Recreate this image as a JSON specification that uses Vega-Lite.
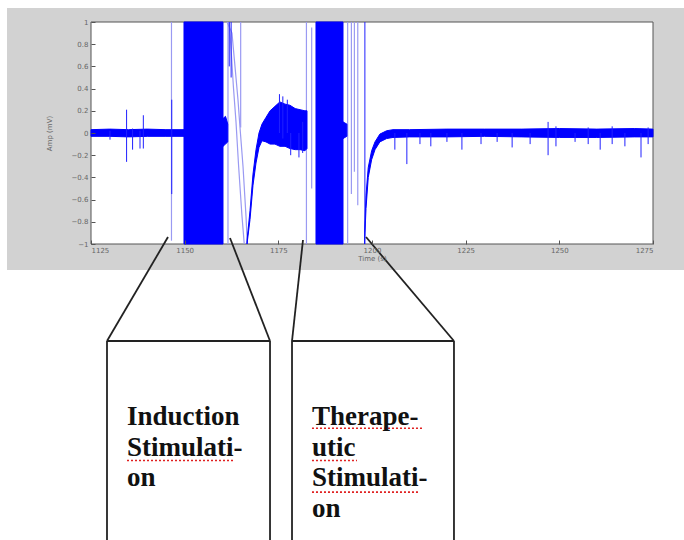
{
  "$schema": "https://vega.github.io/schema/vega-lite/v6.json",
  "width": 562,
  "height": 222,
  "autosize": {"type": "none"},
  "padding": {"left": 91, "top": 22, "right": 31, "bottom": 296},
  "background": "white",
  "config": {
    "view": {"stroke": null},
    "axis": {"grid": false, "domain": false, "labelFont": "DejaVu Sans", "labelFontSize": 7, "labelColor": "#666", "titleFont": "DejaVu Sans", "titleFontSize": 7, "titleFontWeight": "normal", "titleColor": "#666", "tickColor": "#555", "tickSize": -4}
  },
  "datasets": {
    "bg": [{"t": 1102.58, "t2": 1290, "v": 1.126, "v2": -1.234}],
    "frame": [{"t": 1125, "t2": 1275, "v": 1, "v2": -1}],
    "env": [
      {"seg": "a", "t": 1125.0, "v": -0.03, "v2": 0.03},
      {"seg": "a", "t": 1130.0, "v": -0.03, "v2": 0.035},
      {"seg": "a", "t": 1135.0, "v": -0.035, "v2": 0.03},
      {"seg": "a", "t": 1140.0, "v": -0.03, "v2": 0.035},
      {"seg": "a", "t": 1145.0, "v": -0.03, "v2": 0.03},
      {"seg": "a", "t": 1149.82, "v": -0.03, "v2": 0.03},
      {"seg": "b", "t": 1149.82, "v": -1, "v2": 1},
      {"seg": "b", "t": 1160.23, "v": -1, "v2": 1},
      {"seg": "c", "t": 1160.23, "v": -0.12, "v2": 0.13},
      {"seg": "c", "t": 1160.9, "v": -0.1, "v2": 0.15},
      {"seg": "c", "t": 1161.5, "v": -0.08, "v2": 0.08},
      {"seg": "d", "t": 1166.64, "v": -1.0, "v2": -0.97},
      {"seg": "d", "t": 1167.44, "v": -0.78, "v2": -0.7},
      {"seg": "d", "t": 1168.24, "v": -0.47, "v2": -0.37},
      {"seg": "d", "t": 1169.04, "v": -0.27, "v2": -0.15},
      {"seg": "d", "t": 1169.84, "v": -0.13, "v2": 0.0},
      {"seg": "d", "t": 1170.64, "v": -0.07, "v2": 0.08},
      {"seg": "d", "t": 1171.7, "v": -0.08, "v2": 0.14},
      {"seg": "d", "t": 1172.8, "v": -0.1, "v2": 0.2},
      {"seg": "d", "t": 1174.1, "v": -0.1, "v2": 0.24},
      {"seg": "d", "t": 1175.4, "v": -0.12, "v2": 0.28},
      {"seg": "d", "t": 1176.8, "v": -0.12, "v2": 0.26},
      {"seg": "d", "t": 1178.1, "v": -0.14, "v2": 0.25},
      {"seg": "d", "t": 1179.5, "v": -0.15, "v2": 0.22},
      {"seg": "d", "t": 1180.8, "v": -0.15, "v2": 0.21},
      {"seg": "d", "t": 1182.1, "v": -0.16, "v2": 0.2},
      {"seg": "d", "t": 1182.65, "v": -0.14, "v2": 0.2},
      {"seg": "e", "t": 1185.05, "v": -1, "v2": 1},
      {"seg": "e", "t": 1192.26, "v": -1, "v2": 1},
      {"seg": "f", "t": 1192.26, "v": -0.05, "v2": 0.1},
      {"seg": "f", "t": 1193.3, "v": -0.03, "v2": 0.08},
      {"seg": "g", "t": 1198.0, "v": -1.0, "v2": -0.9},
      {"seg": "g", "t": 1198.4, "v": -0.68, "v2": -0.56},
      {"seg": "g", "t": 1199.0, "v": -0.4, "v2": -0.31},
      {"seg": "g", "t": 1199.9, "v": -0.24, "v2": -0.16},
      {"seg": "g", "t": 1200.8, "v": -0.15, "v2": -0.08},
      {"seg": "g", "t": 1202.1, "v": -0.08, "v2": -0.01},
      {"seg": "g", "t": 1203.9, "v": -0.05, "v2": 0.02},
      {"seg": "g", "t": 1205.6, "v": -0.04, "v2": 0.03},
      {"seg": "g", "t": 1210.0, "v": -0.035, "v2": 0.03},
      {"seg": "g", "t": 1220.0, "v": -0.035, "v2": 0.035},
      {"seg": "g", "t": 1230.0, "v": -0.03, "v2": 0.035},
      {"seg": "g", "t": 1240.0, "v": -0.035, "v2": 0.035},
      {"seg": "g", "t": 1250.0, "v": -0.04, "v2": 0.04},
      {"seg": "g", "t": 1260.0, "v": -0.04, "v2": 0.035},
      {"seg": "g", "t": 1270.0, "v": -0.035, "v2": 0.04},
      {"seg": "g", "t": 1275.0, "v": -0.035, "v2": 0.035}
    ],
    "lightRules": [
      {"t": 1146.48, "v": -0.97, "v2": 1},
      {"t": 1161.56, "v": -1, "v2": 1},
      {"t": 1164.95, "v": 0.05, "v2": 1},
      {"t": 1182.5, "v": -1, "v2": 1},
      {"t": 1183.9, "v": -0.5, "v2": 0.95},
      {"t": 1193.5, "v": -1, "v2": 1},
      {"t": 1194.5, "v": -0.55, "v2": 1},
      {"t": 1195.3, "v": -0.35, "v2": 1},
      {"t": 1196.2, "v": -0.65, "v2": 1}
    ],
    "darkRules": [
      {"t": 1130.07, "v": -0.06, "v2": 0.02},
      {"t": 1134.5, "v": -0.26, "v2": 0.21},
      {"t": 1136.1, "v": -0.15, "v2": 0.04},
      {"t": 1138.08, "v": -0.14, "v2": 0.02},
      {"t": 1138.97, "v": -0.14, "v2": 0.16},
      {"t": 1146.55, "v": -0.55, "v2": 0.3},
      {"t": 1161.9, "v": 0.6, "v2": 1},
      {"t": 1162.4, "v": 0.5, "v2": 1},
      {"t": 1175.3, "v": 0.0, "v2": 0.35},
      {"t": 1176.2, "v": -0.05, "v2": 0.33},
      {"t": 1177.4, "v": 0.0, "v2": 0.3},
      {"t": 1178.3, "v": -0.2, "v2": 0.0},
      {"t": 1180.5, "v": -0.22, "v2": 0.0},
      {"t": 1181.5, "v": -0.18, "v2": 0.1},
      {"t": 1198.1, "v": -1, "v2": 1},
      {"t": 1206.1, "v": -0.15, "v2": 0.0},
      {"t": 1209.3, "v": -0.28, "v2": 0.0},
      {"t": 1212.8, "v": -0.1, "v2": 0.0},
      {"t": 1215.7, "v": -0.12, "v2": 0.0},
      {"t": 1220.0, "v": -0.08, "v2": 0.0},
      {"t": 1224.0, "v": -0.15, "v2": 0.0},
      {"t": 1229.1, "v": -0.1, "v2": 0.0},
      {"t": 1233.4, "v": -0.08, "v2": 0.0},
      {"t": 1237.4, "v": -0.13, "v2": 0.0},
      {"t": 1242.2, "v": -0.1, "v2": 0.0},
      {"t": 1247.0, "v": -0.2, "v2": 0.1},
      {"t": 1249.1, "v": -0.12, "v2": 0.06},
      {"t": 1254.2, "v": -0.08, "v2": 0.0},
      {"t": 1257.7, "v": -0.1, "v2": 0.05},
      {"t": 1260.9, "v": -0.15, "v2": 0.0},
      {"t": 1264.1, "v": -0.1, "v2": 0.06},
      {"t": 1267.5, "v": -0.12, "v2": 0.0},
      {"t": 1271.8, "v": -0.22, "v2": 0.0},
      {"t": 1273.7, "v": -0.1, "v2": 0.05}
    ],
    "lightCurves": [
      {"seg": "1", "t": 1161.3, "v": 1.0},
      {"seg": "1", "t": 1162.63, "v": 0.9},
      {"seg": "1", "t": 1163.43, "v": 0.6},
      {"seg": "1", "t": 1164.23, "v": 0.3},
      {"seg": "1", "t": 1164.77, "v": 0.05},
      {"seg": "1", "t": 1165.57, "v": -0.3},
      {"seg": "1", "t": 1166.37, "v": -0.75},
      {"seg": "1", "t": 1166.72, "v": -1.0},
      {"seg": "2", "t": 1161.9, "v": 1.0},
      {"seg": "2", "t": 1162.4, "v": 0.75},
      {"seg": "2", "t": 1163.0, "v": 0.42},
      {"seg": "2", "t": 1163.7, "v": 0.1},
      {"seg": "2", "t": 1164.4, "v": -0.3},
      {"seg": "2", "t": 1165.3, "v": -0.75},
      {"seg": "2", "t": 1165.9, "v": -1.0}
    ],
    "box": [
      {"t": 1129.27, "v": -1.874, "t2": 1172.78, "v2": -1.874},
      {"t": 1129.27, "v": -1.874, "t2": 1129.27, "v2": -3.85},
      {"t": 1172.78, "v": -1.874, "t2": 1172.78, "v2": -3.85},
      {"t": 1178.65, "v": -1.874, "t2": 1221.88, "v2": -1.874},
      {"t": 1178.65, "v": -1.874, "t2": 1178.65, "v2": -3.85},
      {"t": 1221.88, "v": -1.874, "t2": 1221.88, "v2": -3.85},
      {"t": 1129.27, "v": -1.874, "t2": 1145.55, "v2": -0.937},
      {"t": 1172.78, "v": -1.874, "t2": 1162.1, "v2": -0.946},
      {"t": 1178.65, "v": -1.874, "t2": 1181.58, "v2": -0.964},
      {"t": 1221.88, "v": -1.874, "t2": 1198.4, "v2": -0.937}
    ],
    "wavy": [
      {"t": 1134.61, "t2": 1163.43, "v": -2.95},
      {"t": 1183.98, "t2": 1213.6, "v": -2.66},
      {"t": 1183.98, "t2": 1195.99, "v": -2.95},
      {"t": 1183.98, "t2": 1212.27, "v": -3.235}
    ],
    "labels": [
      {"t": 1134.61, "v": -2.631, "label": "Induction\nStimulati-\non"},
      {"t": 1183.98, "v": -2.631, "label": "Therape-\nutic\nStimulati-\non"}
    ]
  },
  "encoding": {
    "x": {"field": "t", "type": "quantitative", "scale": {"domain": [1125, 1275], "nice": false, "zero": false},
      "axis": {"zindex": 2, "values": [1125, 1150, 1175, 1200, 1225, 1250, 1275], "format": "d", "title": "Time (s)", "labelPadding": 6, "titlePadding": 1}},
    "y": {"field": "v", "type": "quantitative", "scale": {"domain": [-1, 1], "nice": false, "zero": false},
      "axis": {"zindex": 2, "values": [-1, -0.8, -0.6, -0.4, -0.2, 0, 0.2, 0.4, 0.6, 0.8, 1], "format": "~g", "title": "Amp (mV)", "labelPadding": 7, "titlePadding": 19}}
  },
  "layer": [
    {"data": {"name": "bg"}, "mark": {"type": "rect", "fill": "#d2d2d2"}, "encoding": {"x2": {"field": "t2"}, "y2": {"field": "v2"}}},
    {"data": {"name": "frame"}, "mark": {"type": "rect", "fill": "white", "stroke": "#555", "strokeWidth": 1}, "encoding": {"x2": {"field": "t2"}, "y2": {"field": "v2"}}},
    {"data": {"name": "lightCurves"}, "mark": {"type": "line", "color": "#9a9af2", "strokeWidth": 1.2}, "encoding": {"detail": {"field": "seg"}}},
    {"data": {"name": "lightRules"}, "mark": {"type": "rule", "color": "#9a9af2", "strokeWidth": 1.2}, "encoding": {"y2": {"field": "v2"}}},
    {"data": {"name": "env"}, "mark": {"type": "area", "color": "#0000ff", "stroke": "#0000ff", "strokeWidth": 1, "opacity": 1}, "encoding": {"y2": {"field": "v2"}, "detail": {"field": "seg"}}},
    {"data": {"name": "darkRules"}, "mark": {"type": "rule", "color": "#2020ff", "strokeWidth": 1}, "encoding": {"y2": {"field": "v2"}}},
    {"data": {"name": "box"}, "mark": {"type": "rule", "color": "#222", "strokeWidth": 1.8}, "encoding": {"x2": {"field": "t2"}, "y2": {"field": "v2"}}},
    {"data": {"name": "wavy"}, "mark": {"type": "rule", "color": "#e02020", "strokeWidth": 1.6, "strokeDash": [2, 2]}, "encoding": {"x2": {"field": "t2"}}},
    {"data": {"name": "labels"}, "mark": {"type": "text", "font": "Liberation Serif", "fontWeight": "bold", "fontSize": 27, "color": "#111", "align": "left", "baseline": "alphabetic", "lineBreak": "\n", "lineHeight": 30.7}, "encoding": {"text": {"field": "label"}}}
  ]
}
